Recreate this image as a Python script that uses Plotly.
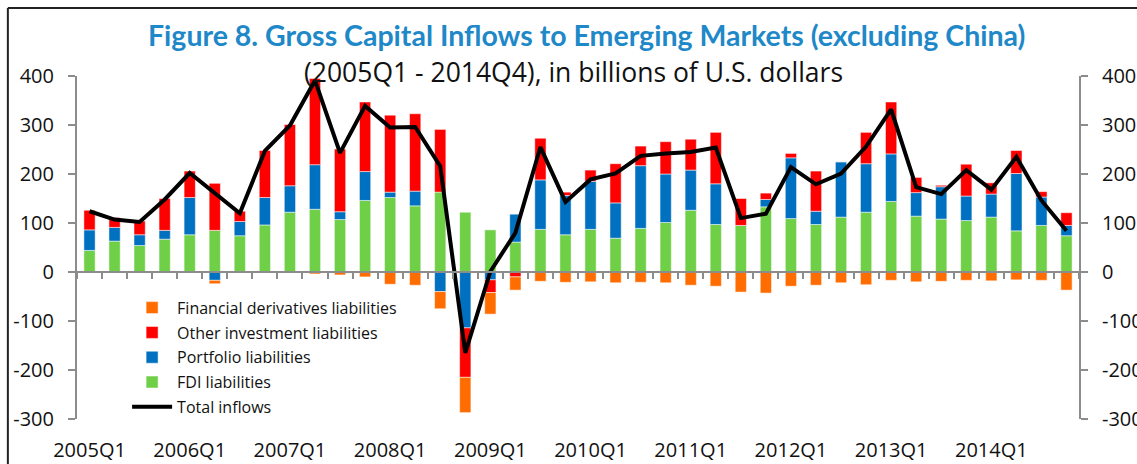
import plotly.graph_objects as go

# quarters shown on the category axis
quarters = [
    "2005Q1", "2005Q2", "2005Q3", "2005Q4", "2006Q1", "2006Q2", "2006Q3", "2006Q4",
    "2007Q1", "2007Q2", "2007Q3", "2007Q4", "2008Q1", "2008Q2", "2008Q3", "2008Q4",
    "2009Q1", "2009Q2", "2009Q3", "2009Q4", "2010Q1", "2010Q2", "2010Q3", "2010Q4",
    "2011Q1", "2011Q2", "2011Q3", "2011Q4", "2012Q1", "2012Q2", "2012Q3", "2012Q4",
    "2013Q1", "2013Q2", "2013Q3", "2013Q4", "2014Q1", "2014Q2", "2014Q3", "2014Q4",
]
tick_labels = ["2005Q1", "2006Q1", "2007Q1", "2008Q1", "2009Q1",
               "2010Q1", "2011Q1", "2012Q1", "2013Q1", "2014Q1"]
y_ticks = [-300, -200, -100, 0, 100, 200, 300, 400]
y_tick_text = ["-300", "-200", "-100", "0", "100", "200", "300", "400"]

# billions of U.S. dollars
fdi = [44, 63, 54, 67, 76, 85, 74, 96, 122, 128, 107, 146, 152, 135, 163, 122,
       86, 61, 87, 76, 87, 69, 89, 101, 126, 97, 95, 133, 109, 97, 112, 122,
       144, 114, 108, 105, 112, 84, 95, 74]
portfolio = [42, 28, 22, 18, 76, -17, 29, 56, 54, 91, 16, 59, 11, 30, -40, -114,
             -16, 57, 101, 80, 98, 72, 128, 99, 82, 83, 0, 15, 124, 27, 113, 99,
             97, 48, 66, 50, 47, 117, 58, 21]
other = [40, 20, 28, 65, 54, 96, 21, 96, 125, 176, 128, 142, 157, 158, 128, -101,
         -26, -10, 85, 7, 23, 80, 40, 66, 63, 105, 55, 13, 9, 82, 0, 64,
         106, 31, 3, 65, 23, 47, 11, 26]
derivatives = [-2, -2, -2, -2, -1, -7, -2, -2, -2, -4, -6, -10, -25, -27, -35, -72,
               -44, -27, -19, -21, -20, -22, -21, -22, -27, -29, -41, -43, -29, -27, -22, -26,
               -17, -20, -19, -17, -18, -16, -17, -37]
total = [124, 107, 102, 148, 202, 160, 120, 247, 299, 391, 243, 339, 295, 296, 216, -165,
         1, 80, 255, 143, 189, 201, 237, 242, 245, 254, 110, 119, 214, 179, 201, 256,
         332, 173, 159, 208, 168, 235, 146, 84]

fig = go.Figure()
bar_series = [
    ("FDI liabilities", fdi, "#6FCF46", 4),
    ("Portfolio liabilities", portfolio, "#0070C0", 3),
    ("Other investment liabilities", other, "#FF0000", 2),
    ("Financial derivatives liabilities", derivatives, "#FF6D00", 1),
]
for name, vals, colour, rank in bar_series:
    fig.add_trace(go.Bar(
        x=quarters, y=vals, name=name, legendrank=rank, legendgroup=name,
        marker=dict(color=colour, line=dict(color="rgba(255,255,255,0.5)", width=1)),
    ))

fig.add_trace(go.Scatter(
    x=quarters, y=total, name="Total inflows", mode="lines", legendrank=5,
    legendgroup="total", line=dict(color="black", width=4), xaxis="x2", yaxis="y2",
))

y_range = [-300, 400]
axis_grey = "#8C8C8C"
tick_font = dict(family="Open Sans", size=20, color="#111")

y_common = dict(
    range=y_range, tickmode="array", tickvals=y_ticks, ticktext=y_tick_text,
    showgrid=False, zeroline=False,
    showline=True, linecolor=axis_grey, linewidth=2,
    ticks="outside", ticklen=7, tickwidth=2, tickcolor=axis_grey,
    ticklabelstandoff=10, tickfont=tick_font, automargin=False,
)

fig.update_layout(
    width=1137, height=464,
    margin=dict(l=77, r=58, t=76, b=45, autoexpand=False),
    paper_bgcolor="white", plot_bgcolor="white",
    barmode="relative", bargap=0.55,
    showlegend=True,
    legend=dict(
        x=0.05, y=0.374, xanchor="left", yanchor="top",
        bgcolor="rgba(0,0,0,0)", tracegroupgap=1, itemwidth=40,
        font=dict(family="Open Sans", size=16, color="#111"),
    ),
    xaxis=dict(
        type="category", categoryorder="array", categoryarray=quarters,
        range=[-0.5, len(quarters) - 0.5],
        tickmode="array", tickvals=tick_labels, ticktext=tick_labels,
        ticks="outside", ticklen=13, tickcolor="rgba(0,0,0,0)",
        showline=False, showgrid=False, zeroline=False,
        tickfont=tick_font, automargin=False,
    ),
    xaxis2=dict(
        type="category", categoryorder="array", categoryarray=quarters,
        range=[-0.5, len(quarters) - 0.5],
        overlaying="x", anchor="free", position=300 / 700,
        tickson="boundaries", ticks="outside", ticklen=6, tickwidth=2, tickcolor=axis_grey,
        showticklabels=False, showline=True, linecolor=axis_grey, linewidth=2,
        showgrid=False, zeroline=False, automargin=False,
    ),
    yaxis=y_common,
    yaxis2=dict(y_common, overlaying="y", side="right", anchor="x"),
    shapes=[
        dict(type="line", xref="paper", yref="paper", x0=-0.069, x1=1.06, y0=1.198, y1=1.198,
             line=dict(color="#222", width=2)),
        dict(type="line", xref="paper", yref="paper", x0=-0.069, x1=-0.069, y0=-0.15, y1=1.198,
             line=dict(color="#222", width=2)),
    ],
    annotations=[
        dict(text="<b>Figure 8. Gross Capital Inflows to Emerging Markets (excluding China)</b>",
             xref="paper", yref="paper", x=0.508, y=1.12, xanchor="center", yanchor="middle",
             showarrow=False, font=dict(family="Lato", size=28.5, color="#1E88C8")),
        dict(text="(2005Q1 - 2014Q4), in billions of U.S. dollars",
             xref="paper", yref="paper", x=0.496, y=1.013, xanchor="center", yanchor="middle",
             showarrow=False, font=dict(family="Open Sans", size=26.5, color="#111")),
    ],
)

fig.write_html("out.html", config={"displayModeBar": False},
               post_script="document.body.style.margin='0';")
